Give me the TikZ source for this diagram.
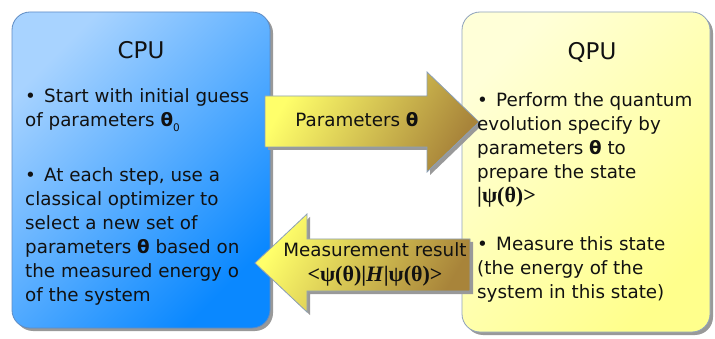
\documentclass[tikz,border=0pt]{standalone}
\usepackage{fontspec}
\setmainfont{DejaVu Sans}
\newfontfamily\serifb{Liberation Serif}
\definecolor{cpulight}{HTML}{A8D3FF}
\definecolor{cpumid}{HTML}{5AAEFF}
\definecolor{cpudark}{HTML}{0A88FF}
\definecolor{cpuedge}{HTML}{5F8CC4}
\definecolor{qpulight}{HTML}{FFFFD8}
\definecolor{qpudark}{HTML}{FFFF8C}
\definecolor{qpuedge}{HTML}{8EA2BC}
\definecolor{arryel}{HTML}{FFFF6A}
\definecolor{arrbrown}{HTML}{A8843A}
\definecolor{arredge}{HTML}{8CA0B8}
\definecolor{txt}{HTML}{111111}
\begin{document}
\begin{tikzpicture}[x=1pt,y=-1pt,
  shadowfill/.style={fill=black!40},
  cpubox/.style={top color=cpulight, bottom color=cpudark, middle color=cpumid, shading angle=45, draw=cpuedge, line width=0.8pt},
  qpubox/.style={top color=qpulight, bottom color=qpudark, shading angle=45, draw=qpuedge, line width=0.8pt},
  arrowshape/.style={top color=arryel, bottom color=arrbrown, shading angle=60, draw=arredge, line width=0.8pt},
  bodytext/.style={anchor=base west, inner sep=0pt, text=txt, font=\fontsize{18.3}{24}\selectfont},
  titletext/.style={inner sep=0pt, text=txt, font=\fontsize{23}{26}\selectfont},
  arrtext/.style={anchor=base, inner sep=0pt, text=txt}
]
\useasboundingbox (0,0) rectangle (715,339);
\fill[white] (0,0) rectangle (715,339);
% CPU box
\fill[shadowfill, rounded corners=18pt] (15,15) rectangle (273,331);
\shade[cpubox, rounded corners=18pt] (12,12) rectangle (270,328);
% QPU box
\fill[shadowfill, rounded corners=18pt] (465,15) rectangle (713,335);
\shade[qpubox, rounded corners=18pt] (462,12) rectangle (710,332);
% top arrow
\fill[shadowfill] (268,99) -- (430,99) -- (430,75) -- (482,125) -- (430,175) -- (430,150) -- (268,150) -- cycle;
\shade[arrowshape] (265,96) -- (427,96) -- (427,72) -- (479,122) -- (427,172) -- (427,147) -- (265,147) -- cycle;
% bottom arrow
\fill[shadowfill] (258,266) -- (310,217) -- (310,242) -- (473,242) -- (473,294) -- (310,294) -- (310,315) -- cycle;
\shade[arrowshape] (255,263) -- (307,214) -- (307,239) -- (470,239) -- (470,291) -- (307,291) -- (307,312) -- cycle;
% titles
\node[titletext] (cputitle) at (141,50) {CPU};
\node[titletext] (qputitle) at (592,52) {QPU};
% CPU text
\node[bodytext] (cputext) at (25,103) {\parbox[t]{250pt}{\raggedright
•\hspace{0.45em}Start with initial guess\\
of parameters \textbf{θ}\raisebox{-5pt}{\fontsize{10.5}{10}\selectfont 0}\\[31pt]
•\hspace{0.45em}At each step, use a\\
classical optimizer to\\
select a new set of\\
parameters \textbf{θ} based on\\
the measured energy o\\
of the system}};
% QPU text
\node[bodytext] (qputext) at (477,107) {\parbox[t]{240pt}{\raggedright
•\hspace{0.45em}Perform the quantum\\
evolution specify by\\
parameters \textbf{θ} to\\
prepare the state\\
{\fontsize{22}{24}\selectfont\serifb\bfseries |ψ(θ)>}\\[24pt]
•\hspace{0.45em}Measure this state\\
(the energy of the\\
system in this state)}};
% arrow texts
\node[arrtext, font=\fontsize{18.3}{20}\selectfont] (partext) at (357,127) {Parameters \textbf{θ}};
\node[arrtext, font=\fontsize{18.3}{20}\selectfont] (meastext) at (375,257) {Measurement result};
\node[arrtext, font=\fontsize{22}{22}\selectfont\serifb\bfseries] (bratext) at (375,281) {<ψ(θ)|\textit{H}|ψ(θ)>};
\end{tikzpicture}
\end{document}
